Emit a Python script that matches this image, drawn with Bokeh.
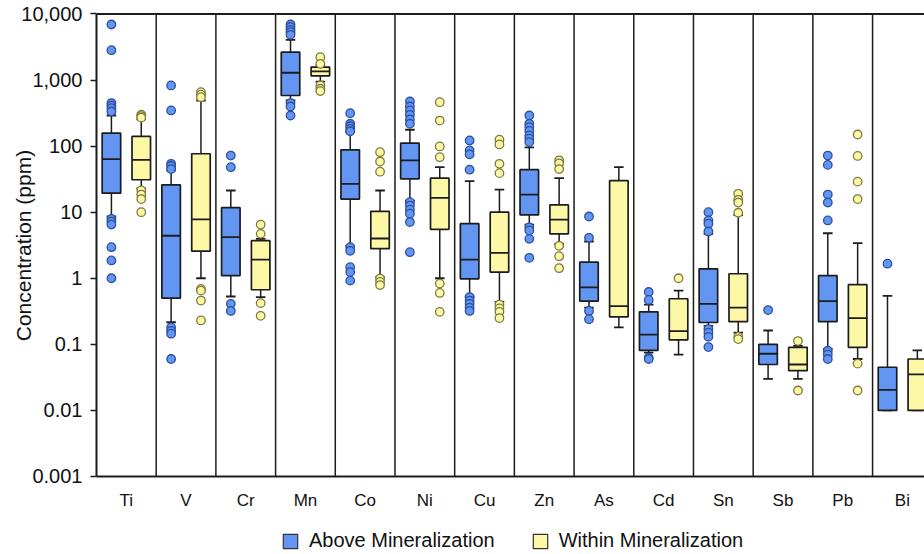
import numpy as np
from bokeh.plotting import figure
from bokeh.layouts import column
from bokeh.models import (FixedTicker, Label, Legend, LegendItem, Range1d)
from bokeh.embed import file_html
from bokeh.resources import INLINE

# ---------------- data ----------------
elements = ["Ti", "V", "Cr", "Mn", "Co", "Ni", "Cu", "Zn", "As", "Cd", "Sn", "Sb", "Pb", "Bi"]

# Above Mineralization: whisker low, Q1, median, Q3, whisker high
above_low = [8.6, 0.216, 0.53, 490, 3.1, 15, 0.53, 6.5, 0.36, 0.075, 0.19, 0.030, 0.085, 0.010]
above_q1 = [19.4, 0.50, 1.1, 584, 15.8, 32, 0.98, 9.1, 0.45, 0.081, 0.214, 0.0495, 0.22, 0.010]
above_med = [63.5, 4.4, 4.2, 1290, 26.9, 60.7, 1.92, 18.5, 0.73, 0.14, 0.41, 0.072, 0.45, 0.0205]
above_q3 = [157, 26, 11.7, 2640, 88, 111, 6.7, 44, 1.75, 0.31, 1.39, 0.10, 1.1, 0.045]
above_high = [291, 43, 21.3, 4060, 163, 177, 29.5, 96, 3.6, 0.40, 4.7, 0.162, 4.8, 0.54]
above_outliers = [
    [6930, 2830, 449, 410, 375, 334, 7.9, 7.2, 6.5, 2.95, 1.86, 1.0],
    [828, 347, 54, 50, 45, 0.18, 0.16, 0.145, 0.06],
    [72, 48, 0.41, 0.32],
    [6930, 6310, 5750, 5310, 4840, 449, 398, 291],
    [315, 218, 200, 182, 168, 2.96, 2.6, 1.47, 1.24, 0.92],
    [474, 398, 347, 298, 253, 218, 14.2, 12.6, 10.9, 9.5, 7.1, 2.48],
    [122, 86, 75, 44, 0.52, 0.46, 0.41, 0.36, 0.32],
    [291, 218, 194, 170, 145, 130, 115, 5.9, 5.3, 3.95, 2.04],
    [8.6, 4.1, 0.32, 0.24],
    [0.62, 0.47, 0.063, 0.060],
    [10, 7.5, 6.7, 5.1, 0.17, 0.15, 0.13, 0.091],
    [0.33],
    [72, 52, 18.5, 14, 7.5, 0.08, 0.07, 0.06],
    [1.66],
]

# Within Mineralization
within_low = [23, 1.0, 0.52, 950, 1.04, 1.0, 0.44, 3.3, 0.18, 0.07, 0.15, 0.030, 0.06, 0.010]
within_q1 = [31, 2.57, 0.67, 1160, 2.8, 5.5, 1.24, 4.7, 0.26, 0.117, 0.22, 0.040, 0.09, 0.010]
within_med = [62, 7.8, 1.92, 1350, 4.0, 16.5, 2.43, 7.7, 0.38, 0.158, 0.36, 0.0495, 0.25, 0.035]
within_q3 = [140, 76.6, 3.7, 1570, 10.3, 32.7, 10, 12.9, 30, 0.49, 1.17, 0.09, 0.80, 0.060]
within_high = [255, 490, 3.95, 1650, 21.3, 48, 21.9, 32.7, 48, 0.65, 9, 0.095, 3.4, 0.081]
within_outliers = [
    [300, 285, 270, 21.4, 18.5, 15.8, 10],
    [656, 600, 550, 0.69, 0.65, 0.46, 0.23],
    [6.5, 4.7, 0.42, 0.27],
    [2220, 1760, 828, 738, 680],
    [81, 58.5, 41, 0.99, 0.88, 0.79],
    [462, 244, 99, 68, 0.83, 0.6, 0.31],
    [125, 106, 54, 39, 0.40, 0.35, 0.31, 0.25],
    [61, 55, 45, 3.1, 2.16, 1.42],
    [],
    [1.0],
    [19, 15.4, 14, 9.8, 0.13, 0.12],
    [0.112, 0.020],
    [150, 71, 29, 15.8, 0.051, 0.020],
    [],
]

y_ticks = [0.001, 0.01, 0.1, 1, 10, 100, 1000, 10000]
y_tick_labels = ["0.001", "0.01", "0.1", "1", "10", "100", "1,000", "10,000"]
y_title = "Concentration (ppm)"
series_names = ["Above Mineralization", "Within Mineralization"]

# ---------------- style ----------------
FONT = "Liberation Sans"
TXT = "#111111"
BLUE = "#6396f3"
BLUE_PT_LINE = "#2c4f9e"
YELLOW = "#fcf8a6"
YELLOW_PT_LINE = "#7c7a3c"
EDGE = "#1c1c1c"
BOX_W = 0.31
CAP_W = 0.16

n = len(elements)
centers = np.arange(n) + 0.5
y_lo, y_hi = y_ticks[0], y_ticks[-1]

# The frame covers the whole canvas width and some room above/below the data
# area so that the axis (fixed at x = 0) and its labels are drawn inside it.
p = figure(width=924, height=516, y_axis_type="log",
           x_range=Range1d(-1.608, 13.87), y_range=Range1d(0.000756, 16000),
           output_backend="svg", toolbar_location=None,
           min_border_left=0, min_border_right=0, min_border_top=0,
           min_border_bottom=32)
p.outline_line_color = None
p.xgrid.grid_line_color = None
p.ygrid.grid_line_color = None

# plot box: left axis line, category dividers, top and bottom lines
div_x = [float(i) for i in range(0, n)]
p.segment(x0=div_x, y0=[y_lo] * n, x1=div_x, y1=[y_hi] * n, line_color=EDGE,
          line_width=[2] + [1.5] * (n - 1))
p.segment(x0=[0, 0], y0=[y_hi, y_lo], x1=[n, n], y1=[y_hi, y_lo],
          line_color=EDGE, line_width=2)


def draw_group(offset, low, q1, med, q3, high, outliers, fill, pt_line):
    xs = centers + offset
    p.segment(x0=xs, y0=q3, x1=xs, y1=high, line_color=EDGE, line_width=1.5)
    p.segment(x0=xs, y0=q1, x1=xs, y1=low, line_color=EDGE, line_width=1.5)
    p.segment(x0=xs - CAP_W / 2, y0=high, x1=xs + CAP_W / 2, y1=high, line_color=EDGE, line_width=1.8)
    p.segment(x0=xs - CAP_W / 2, y0=low, x1=xs + CAP_W / 2, y1=low, line_color=EDGE, line_width=1.8)
    p.quad(left=xs - BOX_W / 2, right=xs + BOX_W / 2, bottom=q1, top=q3,
           fill_color=fill, line_color=EDGE, line_width=1.7)
    p.segment(x0=xs - BOX_W / 2, y0=med, x1=xs + BOX_W / 2, y1=med, line_color=EDGE, line_width=1.8)
    ox, oy = [], []
    for i, vals in enumerate(outliers):
        for v in vals:
            ox.append(xs[i])
            oy.append(v)
    p.scatter(x=ox, y=oy, marker="circle", size=8.5, fill_color=fill,
              line_color=pt_line, line_width=1.3)


draw_group(-0.25, above_low, above_q1, above_med, above_q3, above_high, above_outliers, BLUE, BLUE_PT_LINE)
draw_group(0.25, within_low, within_q1, within_med, within_q3, within_high, within_outliers, YELLOW, YELLOW_PT_LINE)

# axes
ya = p.yaxis[0]
ya.fixed_location = 0
ya.ticker = FixedTicker(ticks=y_ticks)
ya.major_label_overrides = {t: l for t, l in zip(y_ticks, y_tick_labels)}
ya.minor_tick_line_color = None
ya.axis_line_color = None
ya.major_tick_in = 0
ya.major_tick_out = 6
ya.major_tick_line_width = 1.5
ya.major_tick_line_color = EDGE
ya.major_label_text_font = FONT
ya.major_label_text_font_size = "20px"
ya.major_label_text_color = TXT
ya.major_label_standoff = 8

xa = p.xaxis[0]
xa.ticker = FixedTicker(ticks=list(centers))
xa.major_label_overrides = {float(c): e for c, e in zip(centers, elements)}
xa.major_tick_line_color = None
xa.minor_tick_line_color = None
xa.axis_line_color = None
xa.major_label_text_font = FONT
xa.major_label_text_font_size = "17px"
xa.major_label_text_color = TXT
xa.major_label_standoff = 0

# y-axis title (inside the frame, left of the axis)
p.add_layout(Label(x=-1.22, y=3.13, text=y_title, angle=np.pi / 2,
                   text_align="center", text_baseline="middle",
                   text_font=FONT, text_font_size="21px", text_color=TXT))

# ---------------- legend strip ----------------
leg = figure(width=924, height=38, x_range=Range1d(0, 1), y_range=Range1d(0, 1),
             output_backend="svg", toolbar_location=None,
             x_axis_location=None, y_axis_location=None,
             min_border_left=0, min_border_right=0, min_border_top=0, min_border_bottom=0)
leg.outline_line_color = None
leg.xgrid.grid_line_color = None
leg.ygrid.grid_line_color = None
r1 = leg.quad(left=[2], right=[3], bottom=[2], top=[3], fill_color=BLUE, line_color="#333333", line_width=1.2)
r2 = leg.quad(left=[2], right=[3], bottom=[2], top=[3], fill_color=YELLOW, line_color="#333333", line_width=1.2)
legend = Legend(items=[LegendItem(label=series_names[0], renderers=[r1]),
                       LegendItem(label=series_names[1], renderers=[r2])],
                orientation="horizontal", location=(281, 2))
legend.border_line_color = None
legend.background_fill_alpha = 0
legend.label_text_font = FONT
legend.label_text_font_size = "20px"
legend.label_text_color = TXT
legend.glyph_width = 18
legend.glyph_height = 18
legend.label_standoff = 10
legend.spacing = 36
legend.padding = 0
legend.margin = 0
leg.add_layout(legend, "center")

layout = column(p, leg, spacing=0)
open("out.html", "w").write(file_html(layout, INLINE))
